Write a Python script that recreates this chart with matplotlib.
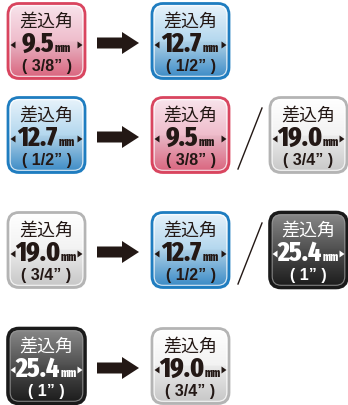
import matplotlib.pyplot as plt
import numpy as np
from matplotlib.patches import FancyBboxPatch, Polygon
from matplotlib.offsetbox import TextArea, HPacker, AnnotationBbox
from matplotlib import font_manager as fm

# Tamaños de cuadradillo (差込角)
tam_mm = ['9.5', '12.7', '19.0', '25.4']
tam_pulg = ['( 3/8” )', '( 1/2” )', '( 3/4” )', '( 1” )']
estilo = ['rosa', 'azul', 'blanco', 'negro']

# Filas: tamaño origen -> tamaños destino
origen = [0, 1, 2, 3]
destinos = [[1], [0, 2], [1, 3], [2]]

# Colores de los degradados (arriba, medio, abajo), borde, texto
paleta = {
    'rosa':   (['#f8e4ec', '#efbccb', '#e0647f'], '#d9455f', '#231815'),
    'azul':   (['#e8f3fb', '#b3d7ee', '#3a8dcb'], '#1f7dc0', '#231815'),
    'blanco': (['#ffffff', '#f2f2f2', '#cdcdcd'], '#b4b4b4', '#231815'),
    'negro':  (['#8a8a8a', '#505050', '#1c1c1c'], '#1a1a1a', '#ffffff'),
}

# Fuente estrecha para los números (con alternativa)
disponibles = {f.name for f in fm.fontManager.ttflist}
if 'Fira Sans Extra Condensed' in disponibles:
    f_num, t_num, t_mm, p_num = 'Fira Sans Extra Condensed', 20, 8.5, 800
else:
    f_num, t_num, t_mm, p_num = 'Liberation Sans', 14.5, 6.5, 'bold'

fig = plt.figure(figsize=(3.48, 4.06), dpi=100)
ax = fig.add_axes([0, 0, 1, 1])
ax.set_xlim(0, 348)
ax.set_ylim(406, 0)
ax.axis('off')

W, H = 77, 75
x_izq = 8
x_der = [152, 270]
filas_cy = [42, 136, 251, 367]
tinta = '#231815'


def caja(x0, cy, i):
    y0 = cy - H / 2
    cols, borde, ctxt = paleta[estilo[i]]
    rgb = np.array([plt.matplotlib.colors.to_rgb(c) for c in cols])
    t = np.linspace(0, 1, 200)
    grad = np.stack([np.interp(t, [0, 0.5, 1], rgb[:, k]) for k in range(3)], axis=1)
    grad[100:] = grad[100:] * 0.97
    clip = FancyBboxPatch((x0, y0), W, H, boxstyle='round,pad=0,rounding_size=11',
                          fc='none', ec='none')
    ax.add_patch(clip)
    im = ax.imshow(grad[:, None, :], extent=(x0, x0 + W, y0 + H, y0), aspect='auto', zorder=1)
    im.set_clip_path(clip)
    ax.add_patch(FancyBboxPatch((x0, y0), W, H, boxstyle='round,pad=0,rounding_size=11',
                                fc='none', ec=borde, lw=2.0 if estilo[i] != 'negro' else 2.6,
                                zorder=2))
    ax.add_patch(FancyBboxPatch((x0 + 2.2, y0 + 2.2), W - 4.4, H - 4.4,
                                boxstyle='round,pad=0,rounding_size=9',
                                fc='none', ec='#ffffff' if estilo[i] != 'negro' else '#9a9a9a',
                                lw=0.8, alpha=0.8, zorder=2))
    cx = x0 + W / 2
    ax.text(cx, cy - 20, '差込角', ha='center', va='center', color=ctxt,
            fontsize=13, family=['Noto Sans CJK JP', 'DejaVu Sans'], zorder=3)
    num = TextArea(tam_mm[i], textprops=dict(color=ctxt, fontsize=t_num, fontweight=p_num,
                                              family=[f_num, 'DejaVu Sans']))
    mm = TextArea('mm', textprops=dict(color=ctxt, fontsize=t_mm, fontweight=p_num,
                                        family=[f_num, 'DejaVu Sans']))
    pack = HPacker(children=[num, mm], align='baseline', pad=0, sep=0.5)
    ax.add_artist(AnnotationBbox(pack, (cx - 0.5, cy + 2), frameon=False,
                                 box_alignment=(0.5, 0.5), zorder=3))
    ax.text(cx, cy + 24.5, tam_pulg[i], ha='center', va='center', color=ctxt,
            fontsize=11.5, fontweight='bold', family=['Liberation Sans', 'DejaVu Sans'],
            zorder=3)
    yt = cy + 4
    ax.add_patch(Polygon([[x0 + 2.5, yt], [x0 + 7.5, yt - 3.5], [x0 + 7.5, yt + 3.5]],
                         fc=ctxt, ec='none', zorder=3))
    ax.add_patch(Polygon([[x0 + W - 2.5, yt], [x0 + W - 7.5, yt - 3.5], [x0 + W - 7.5, yt + 3.5]],
                         fc=ctxt, ec='none', zorder=3))


def flecha(cy):
    yc = cy + 2
    ax.add_patch(Polygon([[97, yc - 5.5], [122, yc - 5.5], [122, yc - 11], [139, yc],
                          [122, yc + 11], [122, yc + 5.5], [97, yc + 5.5]],
                         fc=tinta, ec='none', zorder=3))


for f, cy in enumerate(filas_cy):
    caja(x_izq, cy, origen[f])
    flecha(cy)
    for j, d in enumerate(destinos[f]):
        caja(x_der[j], cy, d)
    if len(destinos[f]) > 1:
        ax.plot([262, 238], [cy - 27, cy + 34], color=tinta, lw=1.0, zorder=3)

fig.savefig('out.png', dpi=100)
